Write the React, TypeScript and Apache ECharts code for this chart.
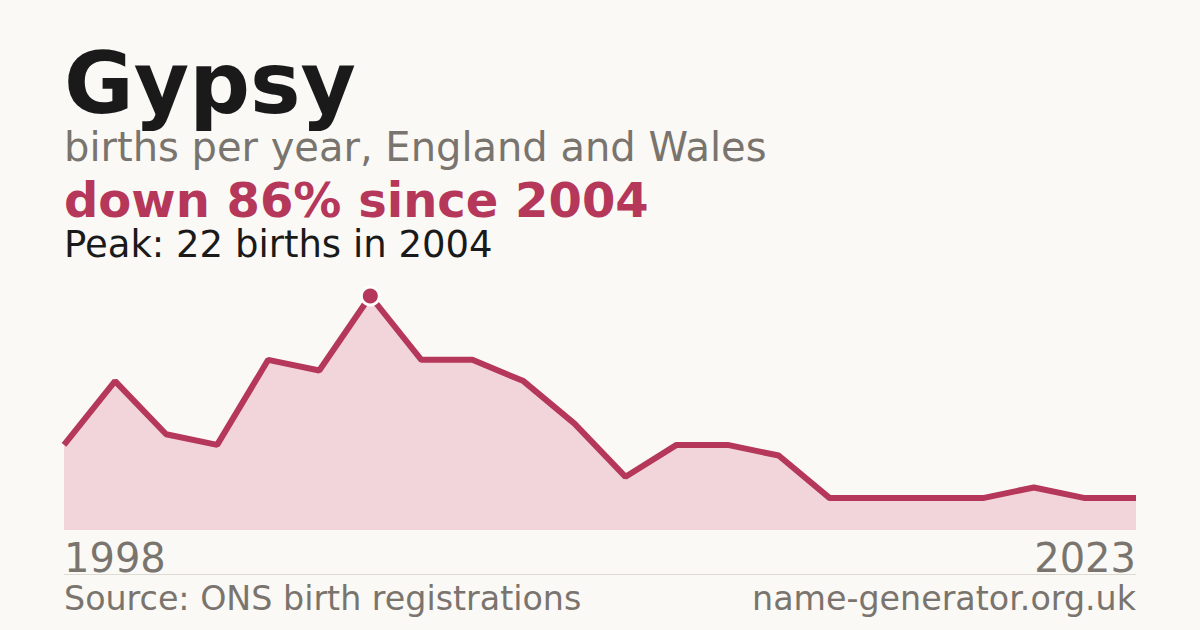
import React, { useEffect, useRef } from 'react'
import * as echarts from 'echarts'

// years with a published count (some later years are missing from the series)
const years = [
  '1998', '1999', '2000', '2001', '2002', '2003', '2004', '2005', '2006', '2007', '2008',
  '2009', '2010', '2011', '2012', '2014', '2016', '2018', '2020', '2021', '2022', '2023'
]
const births = [8, 14, 9, 8, 16, 15, 22, 16, 16, 14, 10, 5, 8, 8, 7, 3, 3, 3, 3, 4, 3, 3]

const nameTitle = 'Gypsy'
const subtitle = 'births per year, England and Wales'
const changeText = 'down 86% since 2004'
const peakText = 'Peak: 22 births in 2004'
const sourceText = 'Source: ONS birth registrations'
const siteText = 'name-generator.org.uk'

const FONT = '"DejaVu Sans", Verdana, sans-serif'
const RED = '#b5375a'
const GREY = '#7a746e'
const DARK = '#1a1a1a'
const BG = '#faf9f5'

const App: React.FC = () => {
  const chartRef = useRef<HTMLDivElement>(null)

  useEffect(() => {
    document.body.style.margin = '0'
    document.body.style.background = BG
    if (!chartRef.current) return
    const chart = echarts.init(chartRef.current, undefined, { renderer: 'svg' })

    const peakIdx = births.indexOf(Math.max(...births))
    const lastIdx = years.length - 1

    const option: echarts.EChartsOption = {
      animation: false,
      backgroundColor: BG,
      grid: { left: 64, right: 64, top: 296, bottom: 100 },
      xAxis: {
        type: 'category',
        data: years,
        boundaryGap: false,
        axisLine: { show: false },
        axisTick: { show: false },
        axisLabel: {
          interval: (i: number) => i === 0 || i === lastIdx,
          showMinLabel: true,
          showMaxLabel: true,
          alignMinLabel: 'left',
          alignMaxLabel: 'right',
          margin: 8,
          verticalAlign: 'top',
          fontFamily: FONT,
          fontSize: 40,
          color: GREY
        } as any
      },
      yAxis: {
        type: 'value',
        min: 0,
        max: 22,
        show: false
      },
      series: [
        {
          type: 'line',
          symbol: 'none',
          data: births.map((v, i) =>
            i === peakIdx
              ? {
                  value: v,
                  symbol: 'circle',
                  symbolSize: 18,
                  itemStyle: { color: RED, borderColor: '#ffffff', borderWidth: 3 }
                }
              : v
          ),
          lineStyle: { color: RED, width: 6 },
          areaStyle: { color: '#f1d5db', opacity: 1 },
          clip: false,
          z: 2
        }
      ],
      graphic: [
        {
          type: 'text', left: 64, top: 41,
          style: { text: nameTitle, font: `bold 85px ${FONT}`, fill: DARK }
        },
        {
          type: 'text', left: 64, top: 127,
          style: { text: subtitle, font: `40px ${FONT}`, fill: GREY }
        },
        {
          type: 'text', left: 64, top: 176,
          style: { text: changeText, font: `bold 48px ${FONT}`, fill: RED, lineHeight: 46 }
        },
        {
          type: 'text', left: 64, top: 226,
          style: { text: peakText, font: `37px ${FONT}`, fill: DARK, lineHeight: 36 }
        },
        {
          type: 'line',
          shape: { x1: 64, y1: 574.5, x2: 1136, y2: 574.5 },
          style: { stroke: '#dedbd4', lineWidth: 1 }
        },
        {
          type: 'text', left: 64, top: 582,
          style: { text: sourceText, font: `33.3px ${FONT}`, fill: GREY }
        },
        {
          type: 'text', right: 64, top: 582,
          style: { text: siteText, font: `33.3px ${FONT}`, fill: GREY }
        }
      ]
    }

    chart.setOption(option)
    return () => {
      chart.dispose()
    }
  }, [])

  return <div ref={chartRef} style={{ width: 1200, height: 630 }} />
}

export default App
